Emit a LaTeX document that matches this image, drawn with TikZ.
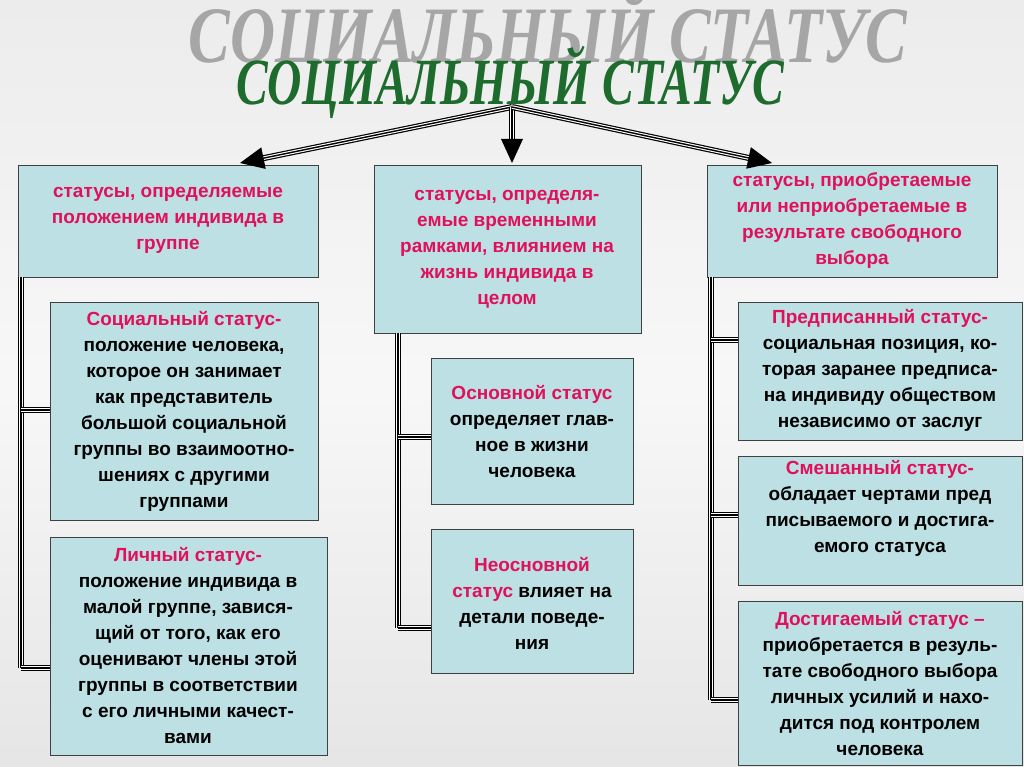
\documentclass[tikz,border=0pt]{standalone}
\usepackage{fontspec}
\setmainfont{Liberation Sans}
\newfontfamily\titlefont{Liberation Serif}
\usetikzlibrary{arrows.meta,calc}
\definecolor{pk}{HTML}{E0105A}
\definecolor{bx}{HTML}{BCE0E4}
\definecolor{gr}{HTML}{1E6B2E}
\begin{document}
\begin{tikzpicture}[x=1pt,y=-1pt,
  bxs/.style={draw=black!75,line width=0.8pt,fill=bx,inner sep=0pt},
  txt/.style={align=center,font=\bfseries\fontsize{19}{26}\selectfont},
  tri/.style={line width=6pt,draw=black,postaction={draw=white,line width=3.6pt},postaction={draw=black,line width=1.4pt}}]
\shade[top color=white!85!gray,bottom color=white!80!gray,middle color=white!94!gray] (0,0) rectangle (1024,767);
\useasboundingbox (0,0) rectangle (1024,767);
% titles
\node (sh) at (548,36) {\titlefont\bfseries\itshape\color{gray!70}\scalebox{0.78}[1]{\fontsize{80}{80}\selectfont СОЦИАЛЬНЫЙ СТАТУС}};
\node (ti) at (510,82) {\titlefont\bfseries\itshape\color{gr}\scalebox{0.72}[1]{\fontsize{66}{66}\selectfont СОЦИАЛЬНЫЙ СТАТУС}};
% boxes
\path[bxs] (18,165) rectangle (318,277);
\path[bxs] (374,165) rectangle (641,333);
\path[bxs] (707,165) rectangle (997,277);
\path[bxs] (50,302) rectangle (318,520);
\path[bxs] (50,537) rectangle (327,755);
\path[bxs] (431,358) rectangle (633,504);
\path[bxs] (431,529) rectangle (633,673);
\path[bxs] (738,302) rectangle (1022,440);
\path[bxs] (738,456) rectangle (1022,585);
\path[bxs] (738,601) rectangle (1022,765);
% texts
\node[txt,text=pk] (a) at (168,220) {статусы, определяемые\\положением индивида в\\группе};
\node[txt,text=pk] (b) at (507,249) {статусы, определя-\\емые временными\\рамками, влиянием на\\жизнь индивида в\\целом};
\node[txt,text=pk] (c) at (852,221) {статусы, приобретаемые\\или неприобретаемые в\\результате свободного\\выбора};
\node[txt] (l1) at (184,411) {\textcolor{pk}{Социальный статус-}\\положение человека,\\которое он занимает\\как представитель\\большой социальной\\группы во взаимоотно-\\шениях с другими\\группами};
\node[txt] (l2) at (188,646) {\textcolor{pk}{Личный статус-}\\положение индивида в\\малой группе, завися-\\щий от того, как его\\оценивают члены этой\\группы в соответствии\\с его личными качест-\\вами};
\node[txt] (m1) at (532,432) {\textcolor{pk}{Основной статус}\\определяет глав-\\ное в жизни\\человека};
\node[txt] (m2) at (532,603) {\textcolor{pk}{Неосновной}\\\textcolor{pk}{статус} влияет на\\детали поведе-\\ния};
\node[txt] (r1) at (880,370) {\textcolor{pk}{Предписанный статус-}\\социальная позиция, ко-\\торая заранее предписа-\\на индивиду обществом\\независимо от заслуг};
\node[txt] (r2) at (880,508) {\textcolor{pk}{Смешанный статус-}\\обладает чертами пред\\писываемого и достига-\\емого статуса};
\node[txt] (r3) at (880,684) {\textcolor{pk}{Достигаемый статус –}\\приобретается в резуль-\\тате свободного выбора\\личных усилий и нахо-\\дится под контролем\\человека};
% top connectors
\coordinate (t0) at (512,107);
\coordinate (ea) at (240,163);
\coordinate (eb) at (512,163);
\coordinate (ec) at (772,163);
\foreach \e in {ea,eb,ec}{
  \draw[tri] (t0) -- ($(\e)!20pt!(t0)$);
  \fill[black] (\e) -- ($(\e)!24pt!(t0)!11pt!90:(\e)$) -- ($(\e)!24pt!(t0)!11pt!-90:(\e)$) -- cycle;
}
% rails
\draw[tri] (21,277) -- (21,668);
\draw[tri] (21,410) -- (50,410);
\draw[tri] (21,668) -- (50,668);
\draw[tri] (398,333) -- (398,628);
\draw[tri] (398,437) -- (431,437);
\draw[tri] (398,628) -- (431,628);
\draw[tri] (711,277) -- (711,700);
\draw[tri] (711,340) -- (738,340);
\draw[tri] (711,515) -- (738,515);
\draw[tri] (711,700) -- (738,700);
\end{tikzpicture}
\end{document}
